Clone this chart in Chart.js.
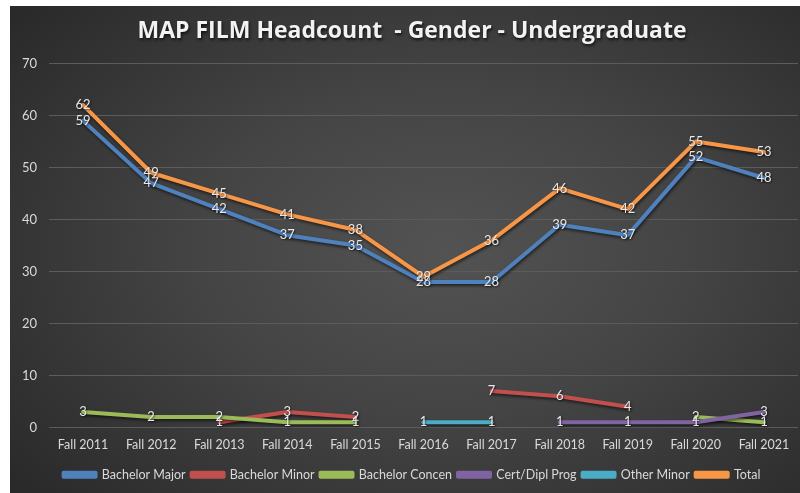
<!DOCTYPE html>
<html>
<head>
<meta charset="utf-8">
<script src="https://cdn.jsdelivr.net/npm/chart.js@4/dist/chart.umd.min.js"></script>
<style>
  html, body { margin: 0; padding: 0; background: #ffffff; }
  #wrap {
    position: absolute; left: 10px; top: 6px; width: 790px; height: 487px;
    background: radial-gradient(ellipse 70% 75% at 55% 50%, #535353 0%, #444444 45%, #2a2a2a 100%);
  }
  canvas { display: block; }
</style>
</head>
<body>
<div id="wrap"><canvas id="c" width="790" height="487"></canvas></div>
<script>
const categories = ['Fall 2011','Fall 2012','Fall 2013','Fall 2014','Fall 2015','Fall 2016','Fall 2017','Fall 2018','Fall 2019','Fall 2020','Fall 2021'];
const bachelorMajor  = [59, 47, 42, 37, 35, 28, 28, 39, 37, 52, 48];
const bachelorMinor  = [null, null, 1, 3, 2, null, 7, 6, 4, null, null];
const bachelorConcen = [3, 2, 2, 1, 1, null, null, null, null, 2, 1];
const certDiplProg   = [null, null, null, null, null, null, null, 1, 1, 1, 3];
const otherMinor     = [null, null, null, null, null, 1, 1, null, null, null, null];
const total          = [62, 49, 45, 41, 38, 29, 36, 46, 42, 55, 53];
const yTicks = [0, 10, 20, 30, 40, 50, 60, 70];

const seriesNames = ['Bachelor Major','Bachelor Minor','Bachelor Concen','Cert/Dipl Prog','Other Minor','Total'];
const seriesData = [bachelorMajor, bachelorMinor, bachelorConcen, certDiplProg, otherMinor, total];
const seriesColors = ['#4F81BD','#C0504D','#9BBB59','#8064A2','#4BACC6','#F79646'];

const datasets = seriesNames.map((n, i) => ({
  label: n,
  data: seriesData[i],
  borderColor: seriesColors[i],
  backgroundColor: seriesColors[i],
  borderWidth: 4,
  pointRadius: 0,
  pointHoverRadius: 0,
  tension: 0,
  spanGaps: false,
  borderCapStyle: 'round',
  borderJoinStyle: 'round',
  order: seriesNames.length - i
}));

const shadowPlugin = {
  id: 'lineShadow',
  beforeDraw(chart) {
    const tb = chart.titleBlock;
    if (tb && !tb._shadowWrapped) {
      const orig = tb.draw.bind(tb);
      tb.draw = function () {
        const ctx = chart.ctx;
        ctx.save();
        ctx.shadowColor = 'rgba(0,0,0,0.7)';
        ctx.shadowBlur = 3;
        ctx.shadowOffsetX = 1;
        ctx.shadowOffsetY = 2;
        orig();
        ctx.restore();
      };
      tb._shadowWrapped = true;
    }
  },
  beforeDatasetsDraw(chart) {
    const ctx = chart.ctx;
    ctx.save();
    ctx.shadowColor = 'rgba(0,0,0,0.55)';
    ctx.shadowBlur = 3;
    ctx.shadowOffsetX = 1;
    ctx.shadowOffsetY = 2;
  },
  afterDatasetsDraw(chart) {
    chart.ctx.restore();
    const ctx = chart.ctx;
    ctx.save();
    ctx.font = '13px Lato';
    ctx.fillStyle = '#e8e8e8';
    ctx.textAlign = 'center';
    ctx.textBaseline = 'middle';
    ctx.shadowColor = 'rgba(0,0,0,0.6)';
    ctx.shadowBlur = 2;
    ctx.shadowOffsetX = 1;
    ctx.shadowOffsetY = 1;
    chart.data.datasets.forEach((ds, i) => {
      const meta = chart.getDatasetMeta(i);
      meta.data.forEach((pt, j) => {
        const v = ds.data[j];
        if (v === null || v === undefined) return;
        ctx.fillText(String(v), pt.x, pt.y);
      });
    });
    ctx.restore();
  }
};

new Chart(document.getElementById('c'), {
  type: 'line',
  data: { labels: categories, datasets },
  plugins: [shadowPlugin],
  options: {
    responsive: false,
    animation: false,
    layout: { padding: { left: 16, right: 2, top: 0, bottom: 2 } },
    plugins: {
      title: {
        display: true,
        text: 'MAP FILM Headcount  - Gender - Undergraduate',
        color: '#f2f2f2',
        font: { family: 'Open Sans', size: 23, weight: 'bold' },
        padding: { top: 12, bottom: 18 }
      },
      legend: {
        position: 'bottom',
        labels: {
          color: '#d9d9d9',
          font: { family: 'Lato', size: 12.5 },
          boxWidth: 32,
          boxHeight: 4,
          padding: 6,
          sort: (a, b) => a.datasetIndex - b.datasetIndex
        }
      },
      tooltip: { enabled: false }
    },
    scales: {
      x: {
        offset: true,
        grid: { display: false, drawTicks: false },
        border: { display: false },
        ticks: { color: '#d9d9d9', font: { family: 'Lato', size: 12.5 }, padding: 10, maxRotation: 0, autoSkip: false }
      },
      y: {
        min: 0, max: 70,
        afterFit(scale) {
          scale.width = 23;
          scale._computeLabelArea = () => undefined;
        },
        afterBuildTicks(scale) { scale.ticks = yTicks.map(v => ({ value: v })); },
        grid: { color: '#5c5c5c', lineWidth: 1, drawTicks: false },
        border: { display: false },
        ticks: { color: '#d9d9d9', font: { family: 'Lato', size: 13 }, padding: 12 }
      }
    }
  }
});
</script>
</body>
</html>
